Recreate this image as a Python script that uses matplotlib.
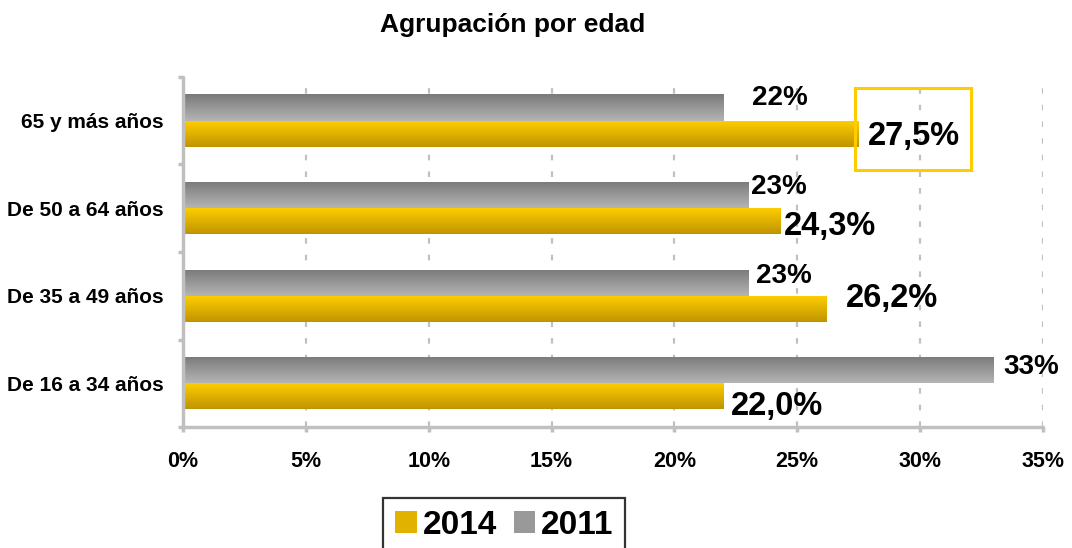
import matplotlib
matplotlib.use("Agg")
import matplotlib.pyplot as plt
import numpy as np
from matplotlib.colors import LinearSegmentedColormap
from matplotlib.patches import Patch, Rectangle
from matplotlib.ticker import FixedLocator, FuncFormatter

plt.rcParams['font.family'] = ['Liberation Sans', 'DejaVu Sans']
plt.rcParams['font.weight'] = 'bold'

categories = ["65 y más años", "De 50 a 64 años", "De 35 a 49 años", "De 16 a 34 años"]
values_2014 = [27.5, 24.3, 26.2, 22.0]
values_2011 = [22, 23, 23, 33]
labels_2014 = ["27,5%", "24,3%", "26,2%", "22,0%"]
labels_2011 = ["22%", "23%", "23%", "33%"]
series_names = ["2014", "2011"]
title = "Agrupación por edad"

# label offsets in pixels (dx right, dy up)
off_2011 = [(28, 10), (3, 8), (8, 7), (9, 3)]
off_2014 = [(9, -3), (4, -5), (19, 10), (7, -10)]

PX = 72 / 100.0  # points per pixel

fig = plt.figure(figsize=(10.72, 5.48), dpi=100)
ax = fig.add_axes([183/1072, 1 - 427/548, (1043-183)/1072, (427-77)/548])

y = np.arange(len(categories))
h = 0.3
gray_cmap = LinearSegmentedColormap.from_list("g", ["#7a7a7a", "#b4b4b4"])
yel_cmap = LinearSegmentedColormap.from_list("y", ["#ffcf00", "#c09400"])

bars11 = ax.barh(y - h/2, values_2011, height=h, color="#999999", zorder=2)
bars14 = ax.barh(y + h/2, values_2014, height=h, color="#e0b000", zorder=2)

grad = np.linspace(0, 1, 64).reshape(-1, 1)
for bars, cmap in ((bars11, gray_cmap), (bars14, yel_cmap)):
    for b in bars:
        x0, yb = b.get_x(), b.get_y()
        w, hh = b.get_width(), b.get_height()
        b.set_facecolor("none")
        im = ax.imshow(grad, cmap=cmap, aspect='auto', origin='upper',
                       extent=[x0, x0 + w, yb + hh, yb], zorder=2.5)
        im.set_clip_path(b)

ax.set_xlim(0, 35)
ax.set_ylim(len(categories) - 0.5, -0.5)

# spines
for s in ["top", "right"]:
    ax.spines[s].set_visible(False)
for s in ["left", "bottom"]:
    ax.spines[s].set_color("#c0c0c0")
    ax.spines[s].set_linewidth(2.5)
    ax.spines[s].set_capstyle("round")

ax.set_xticks(np.arange(0, 36, 5))
ax.xaxis.set_major_formatter(FuncFormatter(lambda v, p: f"{int(v)}%"))
ax.tick_params(axis='x', length=3.6, width=2.5, color="#c0c0c0", pad=13.5,
               labelsize=15.5)
ax.yaxis.set_major_locator(FixedLocator(np.arange(-0.5, len(categories), 1)))
ax.yaxis.set_major_formatter(FuncFormatter(lambda v, p: ""))
ax.yaxis.set_minor_locator(FixedLocator(y))
ax.set_yticklabels(categories, minor=True)
ax.tick_params(axis='y', which='major', length=3.6, width=2.5, color="#c0c0c0")
ax.tick_params(axis='y', which='minor', length=0, pad=13.7, labelsize=15)
for t in ax.get_xticklabels() + ax.get_yticklabels(minor=True):
    t.set_fontweight('bold')

for xv in np.arange(5, 36, 5):
    ax.axvline(xv, color="#c0c0c0", lw=1.6, linestyle=(0, (2.5, 5)), zorder=1)

for i in range(len(categories)):
    dx, dy = off_2011[i]
    ax.annotate(labels_2011[i], (values_2011[i], y[i] - h/2),
                xytext=(dx*PX, dy*PX), textcoords='offset points',
                ha='left', va='center', fontsize=20, fontweight='bold', zorder=5)
    dx, dy = off_2014[i]
    ax.annotate(labels_2014[i], (values_2014[i], y[i] + h/2),
                xytext=(dx*PX, dy*PX), textcoords='offset points',
                ha='left', va='center', fontsize=23.5, fontweight='bold', zorder=5)

# highlight box around the 65+ 2014 label
ax.add_patch(Rectangle((27.35, -0.379), 32.07 - 27.35, 0.563 + 0.379,
                       fill=False, edgecolor="#ffcc00", lw=2.2, zorder=4,
                       clip_on=False))

fig.text(0.4785, 1 - 25/548, title, ha='center', va='center', fontsize=19,
         fontweight='bold')

handles = [Patch(facecolor="#e2b200", edgecolor="none"),
           Patch(facecolor="#999999", edgecolor="none")]
leg = fig.legend(handles, series_names, loc='upper center',
                 bbox_to_anchor=(0.4705, 1 - 498/548), ncol=2, frameon=True,
                 fancybox=False, edgecolor="black",
                 prop={'weight': 'bold', 'size': 24},
                 handlelength=0.65, handleheight=0.65, handletextpad=0.18,
                 columnspacing=0.5, borderpad=0.35, borderaxespad=0)
leg.get_frame().set_linewidth(1.6)

fig.savefig("out.png", dpi=100)
